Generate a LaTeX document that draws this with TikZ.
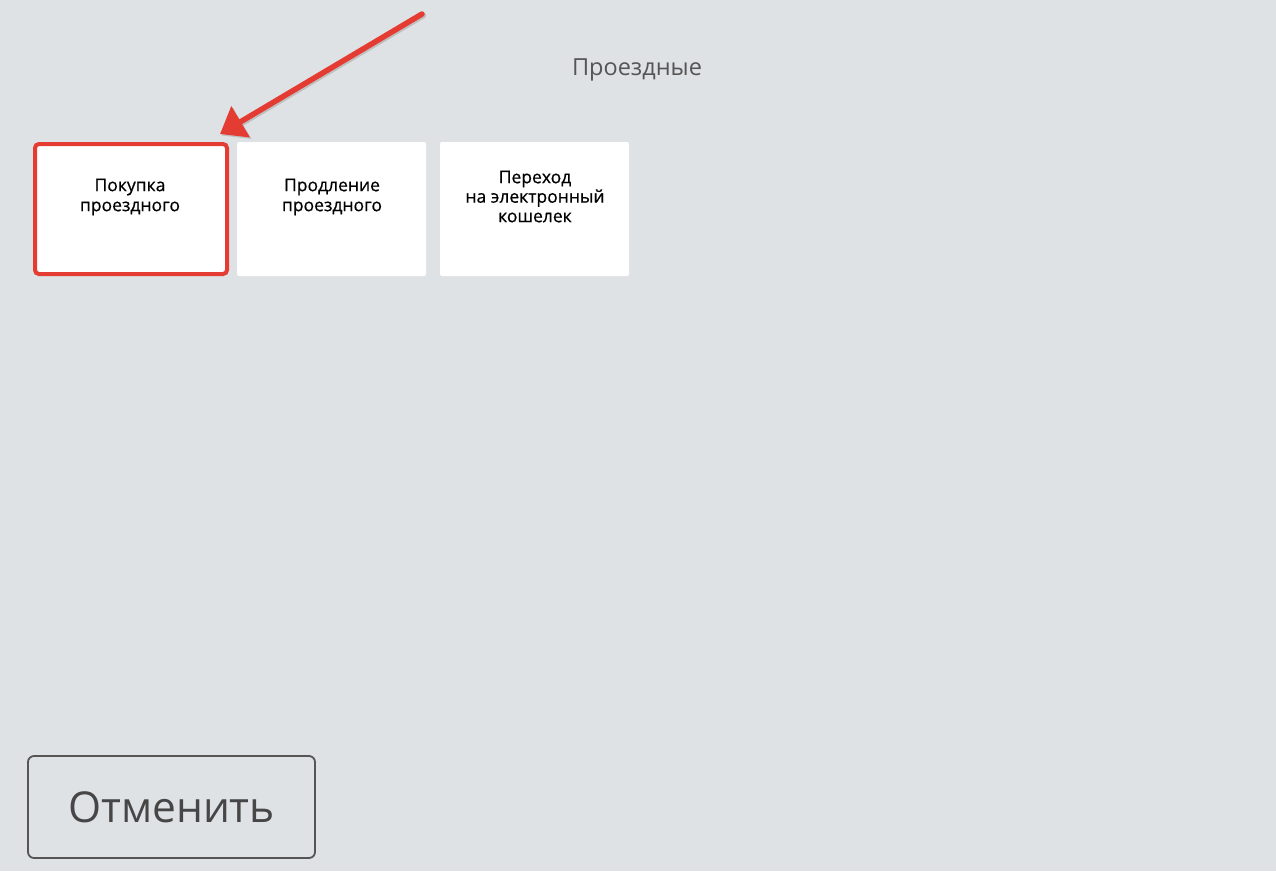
\documentclass[tikz,border=0pt]{standalone}
\usepackage{fontspec}
\setmainfont{Open Sans}
\newfontfamily\tilefont[FakeBold=0.6]{Open Sans}
\usetikzlibrary{arrows.meta}
\definecolor{bg}{RGB}{223,226,229}
\definecolor{redm}{RGB}{228,60,50}
\definecolor{gtext}{RGB}{85,85,85}
\definecolor{btext}{RGB}{70,70,70}
\begin{document}
\begin{tikzpicture}[x=1pt,y=-1pt,
  tile/.style={fill=white,rounded corners=2pt,inner sep=0pt},
  tiletext/.style={font=\tilefont\fontsize{17.5}{20}\selectfont,align=center,text=black,anchor=center},
  sel/.style={draw=redm,line width=4pt,fill=white,rounded corners=4pt}]
\fill[bg] (0,0) rectangle (1276,871);
\useasboundingbox (0,0) rectangle (1276,871);
\node[font=\fontsize{23.5}{26}\selectfont,text=gtext] (title) at (637,70) {Проездные};
% tiles
\draw[sel] (35,144) rectangle (227,274);
\fill[tile] (237,142) rectangle (426,276);
\fill[tile] (440,142) rectangle (629,276);
\node[tiletext] (l1) at (130,197) {Покупка\\проездного};
\node[tiletext] (l2) at (332,197) {Продление\\проездного};
\node[tiletext,font=\tilefont\fontsize{17.5}{19.5}\selectfont] (l3) at (535,196.5) {Переход\\на электронный\\кошелек};
% arrow
\coordinate (as) at (422,14);
\coordinate (ae) at (220,134);
\draw[black!25,line width=5.5pt,line cap=round,-{Triangle[length=24pt,width=35pt]}] ([shift={(1.5,1.5)}]as) -- ([shift={(1.5,1.5)}]ae);
\draw[redm,line width=5.5pt,line cap=round,-{Triangle[length=24pt,width=35pt]}] (as) -- (ae);
% button
\node[draw=gtext,line width=1.8pt,rounded corners=6pt,minimum width=287pt,minimum height=102pt,inner sep=0pt,
  font=\fontsize{42.5}{46}\selectfont,text=btext] (cancel) at (171.5,807) {Отменить};
\end{tikzpicture}
\end{document}
